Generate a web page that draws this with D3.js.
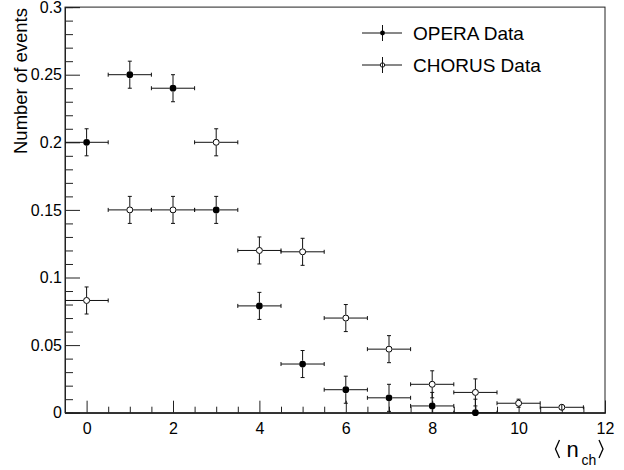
<!DOCTYPE html>
<html>
<head>
<meta charset="utf-8">
<script src="https://cdn.jsdelivr.net/npm/d3@7"></script>
<style>
  html, body { margin: 0; padding: 0; background: #fff; }
  svg { display: block; font-family: "Liberation Sans", Arial, Helvetica, sans-serif; }
</style>
</head>
<body>
<svg id="chart" width="624" height="470"></svg>
<script>
// Charged-particle multiplicity distributions
const nchOpera  = [0, 1, 2, 3, 4, 5, 6, 7, 8, 9];
const operaVals = [0.200, 0.250, 0.240, 0.150, 0.079, 0.036, 0.017, 0.011, 0.005, 0.000];
const operaErr  = [0.010, 0.010, 0.010, 0.010, 0.010, 0.010, 0.010, 0.010, 0.010, 0.010];

const nchChorus  = [0, 1, 2, 3, 4, 5, 6, 7, 8, 9, 10, 11];
const chorusVals = [0.083, 0.150, 0.150, 0.200, 0.120, 0.119, 0.070, 0.047, 0.021, 0.015, 0.007, 0.004];
const chorusErr  = [0.010, 0.010, 0.010, 0.010, 0.010, 0.010, 0.010, 0.010, 0.010, 0.010, 0.003, 0.002];

const binHalfWidth = 0.5;

const xMajorTicks = [0, 2, 4, 6, 8, 10, 12];
const yMajorTicks = [0, 0.05, 0.1, 0.15, 0.2, 0.25, 0.3];
const yTickLabels = ["0", "0.05", "0.1", "0.15", "0.2", "0.25", "0.3"];

const seriesNames = ["OPERA Data", "CHORUS Data"];

const svg = d3.select("#chart");
const frame = { left: 65, right: 605, top: 7.1, bottom: 412.7 };

const x = d3.scaleLinear().domain([-0.5, 12]).range([frame.left, frame.right]);
const y = d3.scaleLinear().domain([0, 0.3]).range([frame.bottom, frame.top]);

const axisColor = "#222";

// Frame box
svg.append("rect")
  .attr("x", frame.left).attr("y", frame.top)
  .attr("width", frame.right - frame.left).attr("height", frame.bottom - frame.top)
  .attr("fill", "none").attr("stroke", axisColor).attr("stroke-width", 1);

// x axis: minor ticks every 0.5, major every 2
const xMinor = d3.range(-0.5, 12.001, 0.5).filter(v => !xMajorTicks.includes(v));
const xAxisMinor = d3.axisBottom(x).tickValues(xMinor).tickSize(-6).tickFormat("");
const xAxisMajor = d3.axisBottom(x).tickValues(xMajorTicks).tickSize(-12).tickPadding(18).tickFormat(d3.format("d"));

function styleAxis(g) {
  g.select(".domain").attr("stroke", axisColor);
  g.selectAll(".tick line").attr("stroke", axisColor);
  g.selectAll(".tick text").attr("fill", "#000").attr("font-size", 16)
    .attr("font-family", "'Liberation Sans', Arial, sans-serif");
}

svg.append("g").attr("transform", `translate(0,${frame.bottom})`).call(xAxisMinor).call(styleAxis);
svg.append("g").attr("transform", `translate(0,${frame.bottom})`).call(xAxisMajor).call(styleAxis)
  .selectAll(".tick text").attr("dy", "0.2em");

// y axis: minor ticks every 0.01, major every 0.05
const yMinor = d3.range(0, 31).map(i => i / 100).filter(v => i5(v));
function i5(v) { return Math.round(v * 100) % 5 !== 0; }
const yAxisMinor = d3.axisLeft(y).tickValues(yMinor).tickSize(-8).tickFormat("");
const yAxisMajor = d3.axisLeft(y).tickValues(yMajorTicks).tickSize(-15).tickPadding(3)
  .tickFormat((d, i) => yTickLabels[i]);

svg.append("g").attr("transform", `translate(${frame.left},0)`).call(yAxisMinor).call(styleAxis);
svg.append("g").attr("transform", `translate(${frame.left},0)`).call(yAxisMajor).call(styleAxis);

// Axis titles
svg.append("text")
  .attr("transform", `translate(27,8) rotate(-90)`)
  .attr("text-anchor", "end")
  .attr("font-size", 18.5)
  .attr("fill", "#000")
  .text("Number of events");

// <n_ch> with angle brackets drawn as strokes
const xt = svg.append("g").attr("class", "x-title");
xt.append("path").attr("d", "M559.5,440 L555.5,449 L559.5,458")
  .attr("fill", "none").attr("stroke", "#000").attr("stroke-width", 1.3);
xt.append("path").attr("d", "M599,440 L603,449 L599,458")
  .attr("fill", "none").attr("stroke", "#000").attr("stroke-width", 1.3);
xt.append("text").attr("x", 566.5).attr("y", 457).attr("font-size", 22).attr("fill", "#000").text("n");
xt.append("text").attr("x", 581.5).attr("y", 465).attr("font-size", 14).attr("fill", "#000").text("ch");

// Clip error bars to the frame
svg.append("clipPath").attr("id", "frameClip")
  .append("rect")
  .attr("x", frame.left).attr("y", frame.top)
  .attr("width", frame.right - frame.left).attr("height", frame.bottom - frame.top);

const markerR = 3.4;
const capHalf = 2;

function drawSeries(xs, vals, errs, filled) {
  const pts = xs.map((n, i) => ({ n, v: vals[i], e: errs[i] }));
  const bars = svg.append("g").attr("clip-path", "url(#frameClip)")
    .attr("stroke", "#111").attr("stroke-width", 1).attr("fill", "none");

  pts.forEach(p => {
    const cx = x(p.n), cy = y(p.v);
    const xl = x(p.n - binHalfWidth), xr = x(p.n + binHalfWidth);
    const yt = y(p.v + p.e), yb = y(p.v - p.e);
    // horizontal bar outside the marker
    bars.append("line").attr("x1", xl).attr("x2", cx - markerR).attr("y1", cy).attr("y2", cy);
    bars.append("line").attr("x1", cx + markerR).attr("x2", xr).attr("y1", cy).attr("y2", cy);
    bars.append("line").attr("x1", xl).attr("x2", xl).attr("y1", cy - capHalf).attr("y2", cy + capHalf);
    bars.append("line").attr("x1", xr).attr("x2", xr).attr("y1", cy - capHalf).attr("y2", cy + capHalf);
    // vertical bar outside the marker
    if (cy - yt > markerR) {
      bars.append("line").attr("x1", cx).attr("x2", cx).attr("y1", yt).attr("y2", cy - markerR);
      bars.append("line").attr("x1", cx).attr("x2", cx).attr("y1", cy + markerR).attr("y2", yb);
      bars.append("line").attr("x1", cx - capHalf).attr("x2", cx + capHalf).attr("y1", yt).attr("y2", yt);
      bars.append("line").attr("x1", cx - capHalf).attr("x2", cx + capHalf).attr("y1", yb).attr("y2", yb);
    }
  });

  svg.append("g").selectAll("circle").data(pts).join("circle")
    .attr("cx", d => x(d.n)).attr("cy", d => y(d.v))
    .attr("r", filled ? markerR : markerR - 0.4)
    .attr("fill", filled ? "#000" : "#fff")
    .attr("stroke", "#000").attr("stroke-width", filled ? 0 : 1);

  // errors smaller than the marker are drawn across it
  const small = pts.filter(p => y(p.v) - y(p.v + p.e) <= markerR);
  svg.append("g").selectAll("line").data(small).join("line")
    .attr("x1", d => x(d.n)).attr("x2", d => x(d.n))
    .attr("y1", d => y(d.v + d.e)).attr("y2", d => Math.min(y(d.v - d.e), frame.bottom))
    .attr("stroke", "#111").attr("stroke-width", 1);
}

drawSeries(nchOpera, operaVals, operaErr, true);
drawSeries(nchChorus, chorusVals, chorusErr, false);

// Legend
const legend = svg.append("g").attr("class", "legend");
const legendRows = [
  { name: seriesNames[0], filled: true, y: 33 },
  { name: seriesNames[1], filled: false, y: 65 }
];
legendRows.forEach(r => {
  const g = legend.append("g");
  g.append("line").attr("x1", 362).attr("x2", 402).attr("y1", r.y).attr("y2", r.y)
    .attr("stroke", "#111").attr("stroke-width", 1);
  g.append("line").attr("x1", 382.5).attr("x2", 382.5).attr("y1", r.y - 8).attr("y2", r.y + 8)
    .attr("stroke", "#111").attr("stroke-width", 1);
  g.append("circle").attr("cx", 382.5).attr("cy", r.y).attr("r", r.filled ? 2.4 : 2.2)
    .attr("fill", r.filled ? "#000" : "#fff").attr("stroke", "#000").attr("stroke-width", r.filled ? 0 : 0.9);
  if (!r.filled) {
    g.append("line").attr("x1", 382.5).attr("x2", 382.5).attr("y1", r.y - 2.2).attr("y2", r.y + 2.2)
      .attr("stroke", "#111").attr("stroke-width", 0.9);
  }
  g.append("text").attr("x", 413).attr("y", r.y).attr("dy", "0.36em")
    .attr("font-size", 19).attr("fill", "#000").text(r.name);
});
</script>
</body>
</html>
